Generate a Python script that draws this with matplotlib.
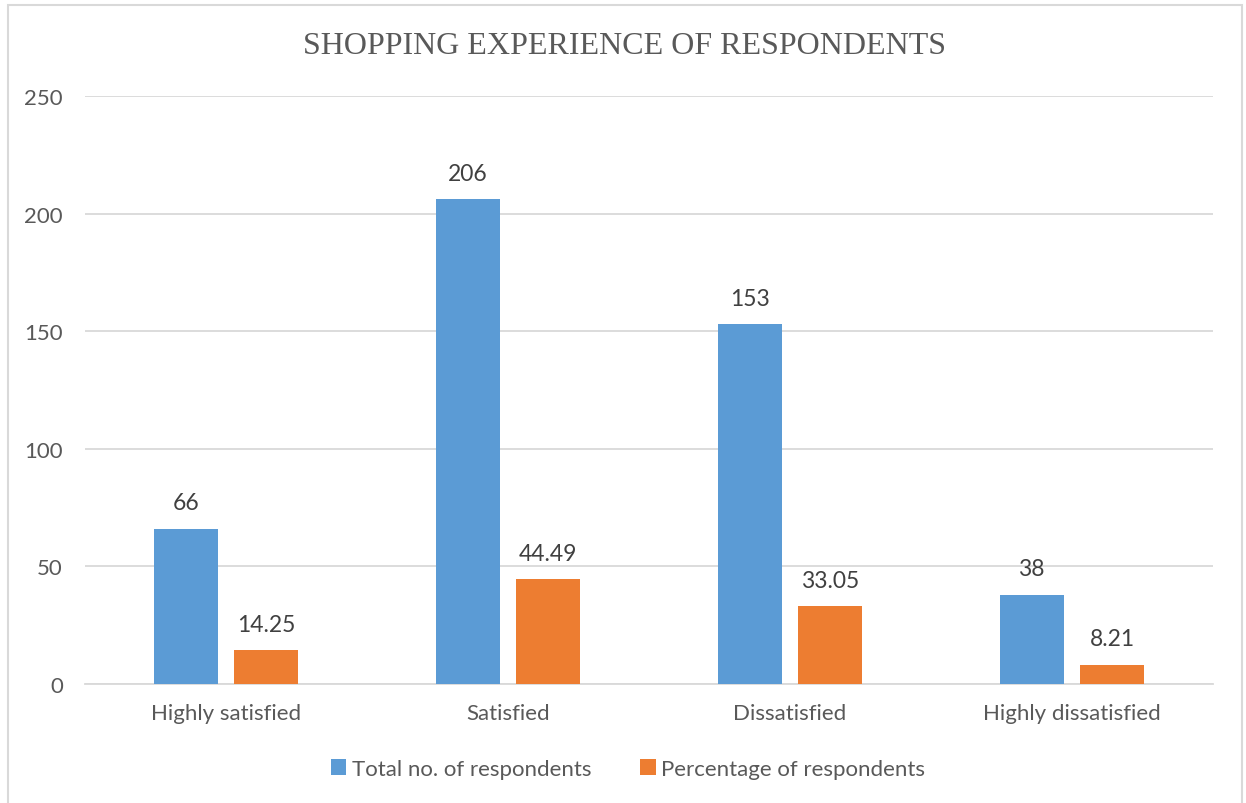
import matplotlib.pyplot as plt
from matplotlib.patches import Rectangle
import numpy as np

categories = ["Highly satisfied", "Satisfied", "Dissatisfied", "Highly dissatisfied"]
total_respondents = [66, 206, 153, 38]
pct_respondents = [14.25, 44.49, 33.05, 8.21]
series_names = ["Total no. of respondents", "Percentage of respondents"]

BLUE = "#5b9bd5"
ORANGE = "#ed7d31"
GRID = "#d9d9d9"
TEXT = "#595959"
LABEL = "#404040"

plt.rcParams['font.family'] = ['Lato', 'DejaVu Sans']

fig = plt.figure(figsize=(12.46, 8.04), dpi=100)
ax = fig.add_axes([85 / 1246, 1 - 685 / 804, (1213 - 85) / 1246, (685 - 97) / 804])

x = np.arange(len(categories))
width = 0.227
offset = 0.143

bars1 = ax.bar(x - offset, total_respondents, width, color=BLUE, label=series_names[0], zorder=3)
bars2 = ax.bar(x + offset, pct_respondents, width, color=ORANGE, label=series_names[1], zorder=3)

for bars, vals in ((bars1, total_respondents), (bars2, pct_respondents)):
    for b, v in zip(bars, vals):
        ax.annotate(f"{v:g}", (b.get_x() + b.get_width() / 2, v),
                    xytext=(0, 11), textcoords="offset points",
                    ha="center", va="bottom", fontsize=16.5, color=LABEL)

ax.set_xlim(-0.5, len(categories) - 0.5)
ax.set_ylim(0, 250)
ax.set_yticks(range(0, 251, 50))
ax.set_xticks(x)
ax.set_xticklabels(categories)
ax.tick_params(axis="both", length=0, labelsize=16, colors=TEXT)
ax.tick_params(axis="y", pad=16)
ax.tick_params(axis="x", pad=14)
ax.yaxis.grid(True, color=GRID, linewidth=1.3, zorder=0)
for side in ("top", "right", "left"):
    ax.spines[side].set_visible(False)
ax.spines["bottom"].set_color(GRID)
ax.spines["bottom"].set_linewidth(1.3)

fig.text(624 / 1246, 1 - 46 / 804, "SHOPPING EXPERIENCE OF RESPONDENTS",
         ha="center", va="center", fontsize=23, color=TEXT,
         family=["Liberation Serif", "DejaVu Serif"])

fig.legend(handles=[bars1, bars2], loc="center", bbox_to_anchor=(628 / 1246, 1 - 770 / 804),
           ncol=2, frameon=False, fontsize=16, labelcolor=TEXT,
           handlelength=0.7, handleheight=0.7, handletextpad=0.25, columnspacing=2.2)

# outer chart border
fig.patches.append(Rectangle((8 / 1246, -0.05), (1242 - 8) / 1246, 1.05 - 6 / 804,
                             transform=fig.transFigure, fill=False,
                             edgecolor=GRID, linewidth=1.5))

fig.savefig("out.png", dpi=100)
